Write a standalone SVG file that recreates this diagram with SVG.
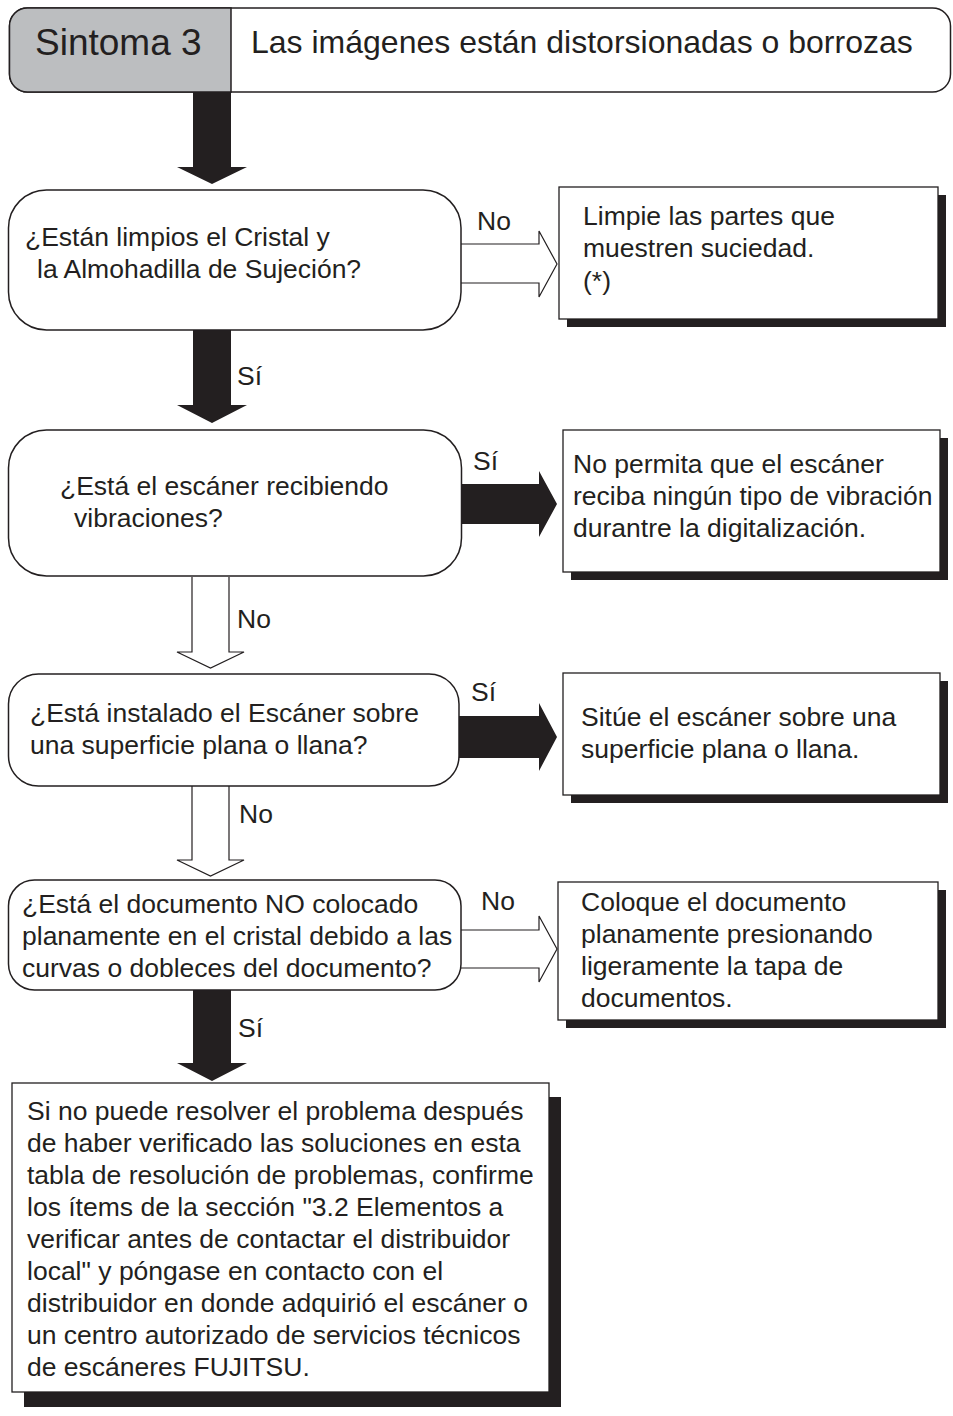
<svg xmlns="http://www.w3.org/2000/svg" width="953" height="1416" viewBox="0 0 953 1416">
<style>
text{font-family:"Liberation Sans",Arial,sans-serif;font-size:26.5px;fill:#231f20}
.dec{fill:#fff;stroke:#231f20;stroke-width:1.5}
.box{fill:#fff;stroke:#231f20;stroke-width:1.3}
.sh{fill:#231f20}
.blk{fill:#231f20;stroke:none}
.hol{fill:#fff;stroke:#231f20;stroke-width:1.2;stroke-linejoin:miter}
</style>
<rect width="953" height="1416" fill="#fff"/>
<g id="header">
  <rect x="9.5" y="8" width="941" height="84" rx="18" ry="18" fill="#fff" stroke="#231f20" stroke-width="1.5"/>
  <path d="M231,8 L27.5,8 A18,18 0 0 0 9.5,26 L9.5,74 A18,18 0 0 0 27.5,92 L231,92 Z" fill="#bcbec0" stroke="#231f20" stroke-width="1.5"/>
  <text x="35" y="55" style="font-size:37px">Sintoma 3</text>
  <text x="251" y="53" style="font-size:32px">Las imágenes están distorsionadas o borrozas</text>
</g>
<g id="connectors">
  <path class="blk" d="M193,92 L231,92 L231,167 L247,167 L212,184 L177,167 L193,167 Z"/>
  <path class="hol" d="M461,244 L539,244 L539,231 L557,264 L539,297 L539,283 L461,283"/>
  <text x="477" y="230">No</text>
  <path class="blk" d="M193,330 L231,330 L231,405 L247,405 L212,423 L177,405 L193,405 Z"/>
  <text x="237" y="385">Sí</text>
  <path class="blk" d="M462,484 L539,484 L539,471 L557,504 L539,537 L539,524 L462,524 Z"/>
  <text x="473" y="470">Sí</text>
  <path class="hol" d="M192,577 L192,652 L177,652 L210.5,668 L244,652 L229,652 L229,577"/>
  <text x="237" y="628">No</text>
  <path class="blk" d="M459,716 L539,716 L539,703 L557,737 L539,771 L539,758 L459,758 Z"/>
  <text x="471" y="701">Sí</text>
  <path class="hol" d="M192,786 L192,860 L177,860 L210.5,876 L244,860 L229,860 L229,786"/>
  <text x="239" y="823">No</text>
  <path class="hol" d="M461,930 L539,930 L539,916 L557,949 L539,982 L539,968 L461,968"/>
  <text x="481" y="910">No</text>
  <path class="blk" d="M193,990 L231,990 L231,1063 L247,1063 L212,1081 L177,1063 L193,1063 Z"/>
  <text x="238" y="1037">Sí</text>
</g>
<g id="d1">
  <rect class="dec" x="8.5" y="190" width="452.5" height="140" rx="38" ry="38"/>
  <text x="25" y="246">¿Están limpios el Cristal y</text>
  <text x="37" y="278">la Almohadilla de Sujeción?</text>
</g>
<g id="b1">
  <rect class="sh" x="567" y="195" width="379" height="132"/>
  <rect class="box" x="559" y="187" width="379" height="132"/>
  <text x="583" y="225">Limpie las partes que</text>
  <text x="583" y="257">muestren suciedad.</text>
  <text x="583" y="290">(*)</text>
</g>
<g id="d2">
  <rect class="dec" x="8.5" y="430" width="453" height="146" rx="38" ry="38"/>
  <text x="60" y="495">¿Está el escáner recibiendo</text>
  <text x="74" y="527">vibraciones?</text>
</g>
<g id="b2">
  <rect class="sh" x="571" y="438" width="377" height="142"/>
  <rect class="box" x="563" y="430" width="377" height="142"/>
  <text x="573" y="473">No permita que el escáner</text>
  <text x="573" y="505">reciba ningún tipo de vibración</text>
  <text x="573" y="537">durantre la digitalización.</text>
</g>
<g id="d3">
  <rect class="dec" x="8.5" y="674" width="450.5" height="112" rx="30" ry="30"/>
  <text x="30" y="722">¿Está instalado el Escáner sobre</text>
  <text x="30" y="754">una superficie plana o llana?</text>
</g>
<g id="b3">
  <rect class="sh" x="571" y="681" width="377" height="122"/>
  <rect class="box" x="563" y="673" width="377" height="122"/>
  <text x="581" y="726">Sitúe el escáner sobre una</text>
  <text x="581" y="758">superficie plana o llana.</text>
</g>
<g id="d4">
  <rect class="dec" x="8.5" y="880" width="452.5" height="110" rx="26" ry="26"/>
  <text x="22" y="913">¿Está el documento NO colocado</text>
  <text x="22" y="945">planamente en el cristal debido a las</text>
  <text x="22" y="977">curvas o dobleces del documento?</text>
</g>
<g id="b4">
  <rect class="sh" x="566" y="890" width="380" height="138"/>
  <rect class="box" x="558" y="882" width="380" height="138"/>
  <text x="581" y="911">Coloque el documento</text>
  <text x="581" y="943">planamente presionando</text>
  <text x="581" y="975">ligeramente la tapa de</text>
  <text x="581" y="1007">documentos.</text>
</g>
<g id="final">
  <rect class="sh" x="24" y="1097" width="537" height="310"/>
  <rect class="box" x="12" y="1083" width="537" height="309"/>
  <text x="27" y="1120">Si no puede resolver el problema después</text>
  <text x="27" y="1152">de haber verificado las soluciones en esta</text>
  <text x="27" y="1184">tabla de resolución de problemas, confirme</text>
  <text x="27" y="1216">los ítems de la sección "3.2 Elementos a</text>
  <text x="27" y="1248">verificar antes de contactar el distribuidor</text>
  <text x="27" y="1280">local" y póngase en contacto con el</text>
  <text x="27" y="1312">distribuidor en donde adquirió el escáner o</text>
  <text x="27" y="1344">un centro autorizado de servicios técnicos</text>
  <text x="27" y="1376">de escáneres FUJITSU.</text>
</g>
</svg>
